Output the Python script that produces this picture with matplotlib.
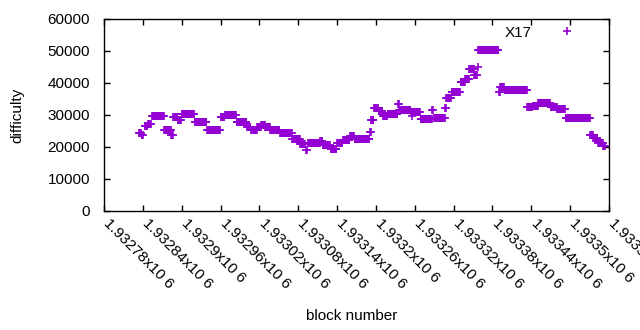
import numpy as np
import matplotlib
matplotlib.use('Agg')
import matplotlib.pyplot as plt
import matplotlib.transforms as mtransforms
from matplotlib.ticker import FixedLocator, FuncFormatter

plt.rcParams['font.family'] = ['Liberation Sans', 'DejaVu Sans']

# difficulty runs: first block, last block, difficulty
run_first = [1932834, 1932838, 1932843, 1932848, 1932854, 1932873, 1932884, 1932887,
             1932894, 1932900, 1932920, 1932939, 1932960, 1932967, 1932985, 1933001,
             1933007, 1933017, 1933023, 1933029, 1933037, 1933052, 1933071, 1933083,
             1933092, 1933095, 1933114, 1933118, 1933130, 1933140, 1933149, 1933160,
             1933167, 1933191, 1933193, 1933197, 1933204, 1933211, 1933218, 1933234,
             1933236, 1933254, 1933256, 1933269, 1933287, 1933290, 1933307, 1933309,
             1933317, 1933331, 1933338, 1933344, 1933352, 1933357, 1933358, 1933390,
             1933392, 1933399, 1933434, 1933442, 1933451, 1933470, 1933480, 1933493,
             1933531, 1933536, 1933543, 1933551]
run_last = [1932837, 1932840, 1932847, 1932852, 1932872, 1932883, 1932886, 1932893,
            1932899, 1932919, 1932938, 1932959, 1932966, 1932984, 1933000, 1933006,
            1933016, 1933022, 1933028, 1933036, 1933051, 1933070, 1933082, 1933090,
            1933093, 1933113, 1933117, 1933129, 1933139, 1933148, 1933159, 1933166,
            1933190, 1933192, 1933196, 1933203, 1933210, 1933217, 1933233, 1933235,
            1933253, 1933268, 1933256, 1933286, 1933288, 1933306, 1933308, 1933316,
            1933330, 1933337, 1933343, 1933351, 1933356, 1933357, 1933389, 1933391,
            1933398, 1933433, 1933441, 1933450, 1933469, 1933479, 1933492, 1933530,
            1933535, 1933542, 1933550, 1933554]
run_difficulty = [24500, 23800, 26700, 27200, 29600, 25300, 23600, 29500,
                  28400, 30200, 27900, 25400, 29300, 30000, 27800, 26200,
                  25300, 26300, 27000, 26200, 25300, 24300, 22400, 20800,
                  19200, 21300, 21900, 20600, 19400, 21100, 22200, 23300,
                  22600, 24800, 28400, 32100, 31300, 29800, 30400, 33300,
                  31500, 31000, 29600, 28700, 31500, 29000, 32200, 35200,
                  37200, 40300, 41300, 44300, 42400, 45100, 50200, 37300,
                  38700, 37800, 32500, 32800, 33600, 32500, 32000, 28950,
                  23700, 22700, 21400, 20300]

x_ticks = [1932780 + 60 * i for i in range(14)]
y_ticks = [0, 10000, 20000, 30000, 40000, 50000, 60000]

blocks = []
difficulty = []
for a, b, d in zip(run_first, run_last, run_difficulty):
    for blk in range(a, b + 1):
        blocks.append(blk)
        difficulty.append(d)

fig = plt.figure(figsize=(6.4, 3.3), dpi=100)
ax = fig.add_axes([104 / 640., 1 - 211 / 330., 505 / 640., 192 / 330.])

ax.plot(blocks, difficulty, linestyle='none', marker='+', markersize=5.5,
        markeredgewidth=1.2, color='#9400d3', label='X17')

ax.set_xlim(1932780, 1933560)
ax.set_ylim(0, 60000)
ax.xaxis.set_major_locator(FixedLocator(x_ticks))
ax.yaxis.set_major_locator(FixedLocator(y_ticks))
ax.xaxis.set_major_formatter(FuncFormatter(lambda v, p: '%gx10 6' % (v / 1e6)))
ax.yaxis.set_major_formatter(FuncFormatter(lambda v, p: '%d' % v))
ax.tick_params(axis='both', direction='in', length=4, width=1, top=True, right=True,
               labelsize=11, colors='black')
ax.tick_params(axis='y', pad=10)
ax.tick_params(axis='x', pad=4)

# shift rotated x labels so they start at the tick, gnuplot style
offset = mtransforms.ScaledTranslation(7 / 100., 0, fig.dpi_scale_trans)
for lbl in ax.get_xticklabels():
    lbl.set_rotation(-45)
    lbl.set_ha('left')
    lbl.set_va('top')
    lbl.set_rotation_mode('anchor')
    lbl.set_transform(lbl.get_transform() + offset)
for s in ax.spines.values():
    s.set_linewidth(1)

ax.set_xlabel('block number', fontsize=11)
ax.xaxis.set_label_coords(0.49, -0.51)
ax.set_ylabel('difficulty', fontsize=11)
ax.yaxis.set_label_coords(-0.157, 0.5)

ax.legend(loc='upper right', frameon=False, markerfirst=False, fontsize=11,
          handlelength=2.0, handletextpad=1.3, bbox_to_anchor=(0.974, 1.036))

fig.savefig('out.png', dpi=100)
